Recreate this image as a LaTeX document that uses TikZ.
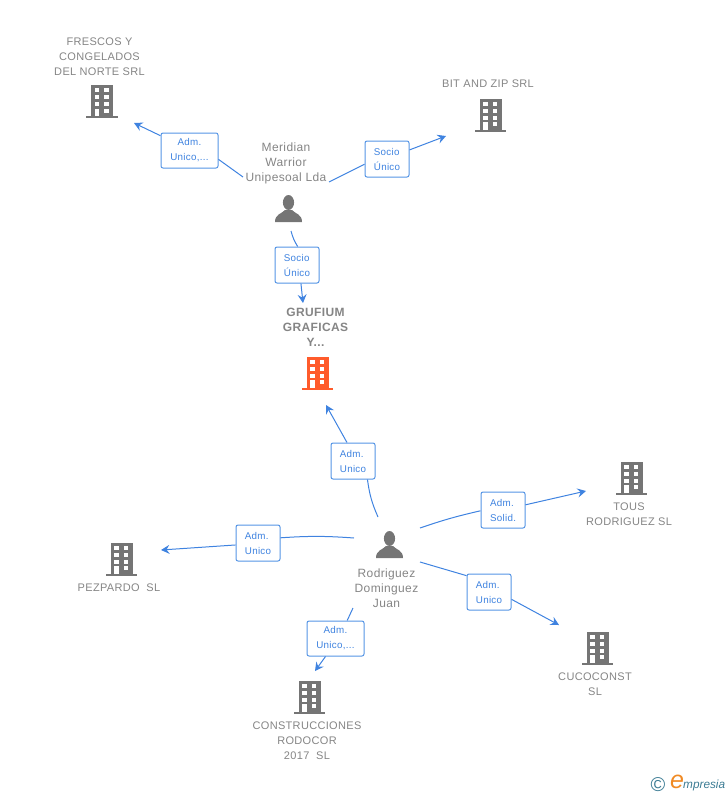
\documentclass[tikz,border=0pt]{standalone}
\usepackage{fontspec}
\setmainfont[LetterSpace=3]{Liberation Sans}
\newfontfamily\markfont{Liberation Sans}
\usetikzlibrary{positioning,arrows.meta}
\definecolor{icongrey}{HTML}{757575}
\definecolor{namegrey}{HTML}{858585}
\definecolor{linkblue}{HTML}{3F83E0}
\definecolor{boxblue}{HTML}{5595E5}
\definecolor{hotorange}{HTML}{FF5B2B}
\definecolor{markteal}{HTML}{3C7C94}
\definecolor{markorange}{HTML}{F08A24}
\tikzset{
  entity/.style={minimum width=32pt,minimum height=33pt,inner sep=0pt},
  entityname/.style={text=namegrey,font=\fontsize{11}{15}\selectfont,align=center,inner sep=0pt},
  personname/.style={entityname,font=\fontsize{12}{15}\selectfont},
  hotname/.style={entityname,font=\fontsize{12}{15}\selectfont\bfseries},
  role/.style={draw=boxblue,line width=1pt,rounded corners=2pt,fill=white,text=linkblue,
    font=\fontsize{9.8}{15}\selectfont,align=center,inner sep=0pt},
  shortrole/.style={role,align=left,minimum width=44pt,minimum height=36pt},
  longrole/.style={role,minimum width=57pt,minimum height=35pt},
  link/.style={draw=linkblue,line width=1pt},
  linkto/.style={link,-{Stealth[length=8.5pt,width=9pt,inset=3pt]}},
  building/.pic={
    \fill (-10.5,-16.5) rectangle (11.5,15);
    \fill (-15.5,14.5) rectangle (16,16.5);
    \foreach \wx in {-6.8,2.7}
      \foreach \wy in {-13.3,-6.3,0.7}
        \fill[white] (\wx,\wy) rectangle ++(4.4,4.2);
    \fill[white] (2.7,7) rectangle ++(4.4,4.2);
    \fill[white] (-6.8,7) rectangle (-2.4,14.5);
  },
  person/.pic={
    \fill (0,-6.5) ellipse (5.6 and 7.5);
    \fill (-13.5,13) .. controls (-13.5,5) and (-7,5) .. (-3.5,1)
      -- (3.5,1) .. controls (7,5) and (13.5,5) .. (13.5,13) -- cycle;
  },
}
\begin{document}
\begin{tikzpicture}[x=1pt,y=-1pt,node distance=30pt,on grid]
\useasboundingbox (0,0) rectangle (728,795);
% icons
\node[entity] (fresco) at (101.5,101.5) {};
\node[entity] (bit) at (490,115) {};
\node[entity] (grufium) at (317,373) {};
\node[entity] (tous) at (631,478) {};
\node[entity] (pez) at (121,559) {};
\node[entity] (cuco) at (597,648) {};
\node[entity] (rodocor) at (309,697) {};
\node[entity] (meridian) at (288.5,209) {};
\node[entity] (rodriguez) at (389.5,545) {};
\foreach \ent in {fresco,bit,tous,pez,cuco,rodocor}
  \pic[fill=icongrey] at (\ent) {building};
\pic[fill=hotorange] at (grufium) {building};
\pic[fill=icongrey] at (meridian) {person};
\pic[fill=icongrey] at (rodriguez) {person};
% names
\node[entityname,above=45pt of fresco,xshift=-2pt] (frescoN) {FRESCOS Y\\CONGELADOS\\DEL NORTE SRL};
\node[entityname,above=31pt of bit,xshift=-2pt] (bitN) {BIT AND ZIP SRL};
\node[personname,above=46pt of meridian,xshift=-2.5pt] (meridianN) {Meridian\\Warrior\\Unipesoal Lda};
\node[hotname,above=46pt of grufium,xshift=-1.5pt] (grufiumN) {GRUFIUM\\GRAFICAS\\Y...};
\node[personname,below=43pt of rodriguez,xshift=-3pt] (rodriguezN) {Rodriguez\\Dominguez\\Juan};
\node[entityname,below=36.5pt of tous,xshift=-2pt] (tousN) {TOUS\\RODRIGUEZ SL};
\node[entityname,below=29pt of pez,xshift=-2pt] (pezN) {PEZPARDO\ \ SL};
\node[entityname,below=36.5pt of cuco,xshift=-2pt] (cucoN) {CUCOCONST\\SL};
\node[entityname,below=44pt of rodocor,xshift=-2pt] (rodocorN) {CONSTRUCCIONES\\RODOCOR\\2017\ \ SL};
% role boxes
\node[longrole] (rFresco) at (189.5,150.5) {Adm.\\Unico,...};
\node[shortrole] (rBit) at (387,159) {Socio\\Único};
\node[shortrole] (rGrufium) at (297,265) {Socio\\Único};
\node[shortrole] (rCompany) at (353,461) {Adm.\\Unico};
\node[shortrole] (rTous) at (503,510) {Adm.\\Solid.};
\node[shortrole] (rPez) at (258,543) {Adm.\\Unico};
\node[shortrole] (rCuco) at (489,592) {Adm.\\Unico};
\node[longrole] (rRodocor) at (335.5,638.5) {Adm.\\Unico,...};
% free ends
\coordinate (a1) at (243,177);
\coordinate (b1) at (134,123);
\coordinate (a2) at (329,182);
\coordinate (b2) at (446,136);
\coordinate (a3) at (291,231);
\coordinate (b3) at (303,303);
\coordinate (a4) at (378,517);
\coordinate (b4) at (326,405);
\coordinate (a5) at (420,528);
\coordinate (b5) at (586,491);
\coordinate (a6) at (354,538);
\coordinate (b6) at (161,550);
\coordinate (a7) at (420,562);
\coordinate (b7) at (559,625);
\coordinate (a8) at (353,608);
\coordinate (b8) at (315,671);
\path
	(a1) edge[link] (rFresco.343)
	(rFresco.153) edge[linkto] (b1)
	(a2) edge[link] (rBit.193)
	(rBit.22) edge[linkto] (b2)
	(a3) edge[link,bend right=8] (rGrufium.88)
	(rGrufium.282) edge[linkto] (b3)
	(a4) edge[link,bend left=8] (rCompany.308)
	(rCompany.108) edge[linkto] (b4)
	(a5) edge[link,bend left=3] (rTous.182)
	(rTous.13) edge[linkto] (b5)
	(a6) edge[link,bend right=4] (rPez.13)
	(rPez.185) edge[linkto] (b6)
	(a7) edge[link] (rCuco.144)
	(rCuco.342) edge[linkto] (b7)
	(a8) edge[link] (rRodocor.57)
	(rRodocor.241) edge[linkto] (b8)
; %-path-%
% watermark
\node[text=markteal,inner sep=0pt,font=\markfont\fontsize{20}{20}\selectfont] (markC) at (658,785) {©};
\node[text=markorange,inner sep=0pt,font=\markfont\itshape\fontsize{25}{25}\selectfont] (markE) at (677,782) {e};
\node[text=markteal,inner sep=0pt,font=\markfont\itshape\fontsize{11.8}{12}\selectfont,anchor=west] (markT) at (683,785) {mpresia};
\end{tikzpicture}
\end{document}
